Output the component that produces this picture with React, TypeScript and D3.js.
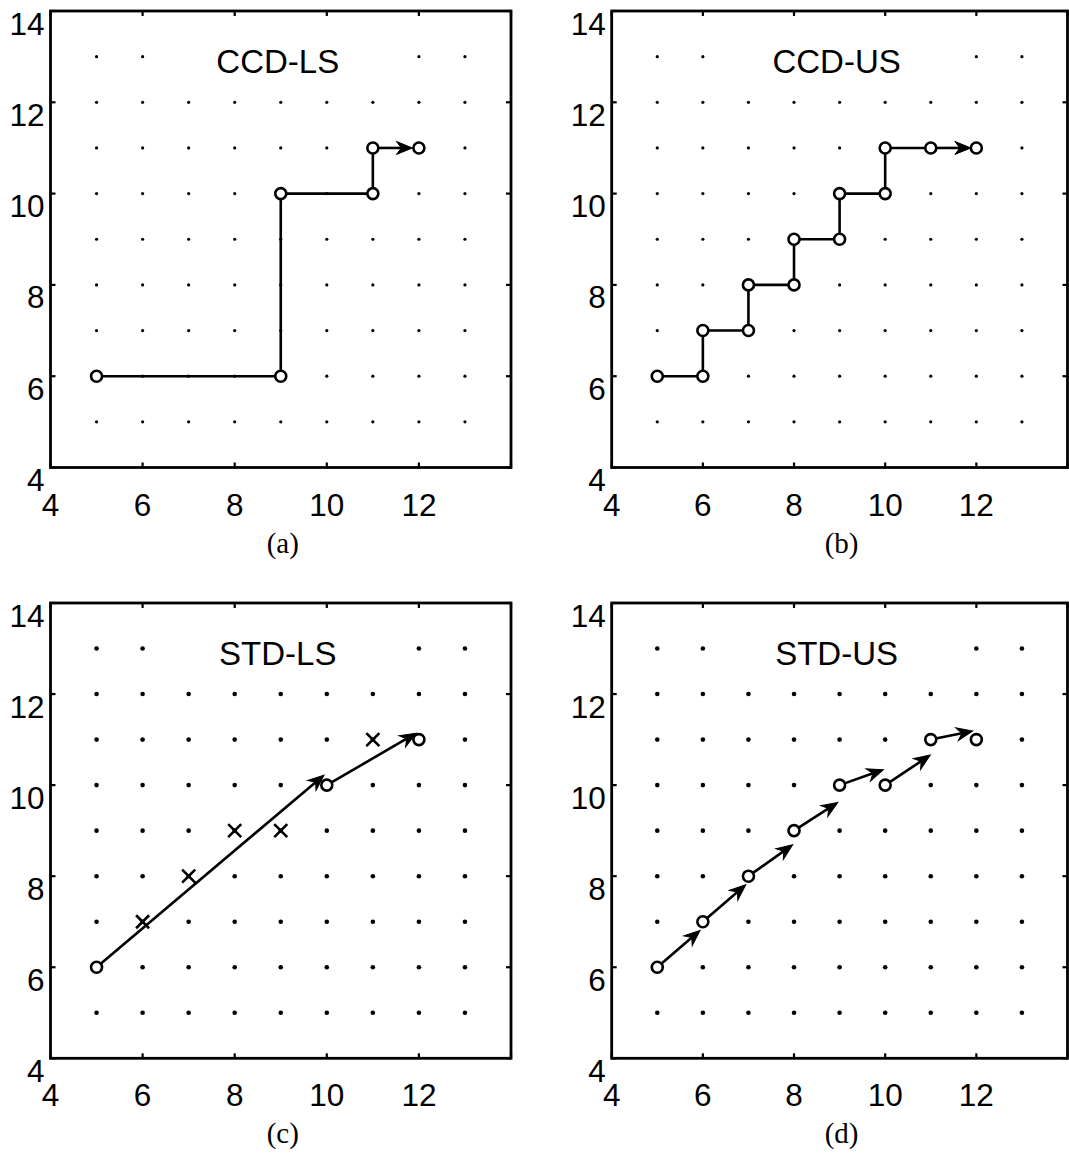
import React from 'react';
import * as d3 from 'd3';

type P = [number, number];
type Seg = [P, P];

// ---------- data ----------
const xTickValues = [4, 6, 8, 10, 12, 14];
const xTickLabels = [4, 6, 8, 10, 12];
const yTickValues = [4, 6, 8, 10, 12, 14];
const yTickLabels = [4, 6, 8, 10, 12, 14];
const gridValues = [5, 6, 7, 8, 9, 10, 11, 12, 13];

const titles = ['CCD-LS', 'CCD-US', 'STD-LS', 'STD-US'];
const captions = ['(a)', '(b)', '(c)', '(d)'];

// (a) CCD-LS
const ccdLsPath: P[] = [[5, 6], [9, 6], [9, 10], [11, 10], [11, 11]];
const ccdLsArrows: Seg[] = [[[11, 11], [11.86, 11]]];
const ccdLsCircles: P[] = [[5, 6], [9, 6], [9, 10], [11, 10], [11, 11], [12, 11]];

// (b) CCD-US
const ccdUsPath: P[] = [[5, 6], [6, 6], [6, 7], [7, 7], [7, 8], [8, 8], [8, 9], [9, 9], [9, 10], [10, 10], [10, 11], [11, 11]];
const ccdUsArrows: Seg[] = [[[11, 11], [11.88, 11]]];
const ccdUsCircles: P[] = [[5, 6], [6, 6], [6, 7], [7, 7], [7, 8], [8, 8], [8, 9], [9, 9], [9, 10], [10, 10], [10, 11], [11, 11], [12, 11]];

// (c) STD-LS
const stdLsArrows: Seg[] = [[[5, 6], [9.94, 10.22]], [[10, 10], [11.94, 11.14]]];
const stdLsCircles: P[] = [[5, 6], [10, 10], [12, 11]];
const stdLsCrosses: P[] = [[6, 7], [7, 8], [8, 9], [9, 9], [11, 11]];

// (d) STD-US
const stdUsArrows: Seg[] = [
  [[5, 6], [5.94, 6.81]],
  [[6, 7], [6.94, 7.81]],
  [[7, 8], [7.97, 8.69]],
  [[8, 9], [8.96, 9.62]],
  [[9, 10], [9.96, 10.34]],
  [[10, 10], [10.99, 10.66]],
  [[11, 11], [11.92, 11.19]],
];
const stdUsCircles: P[] = [[5, 6], [6, 7], [7, 8], [8, 9], [9, 10], [10, 10], [11, 11], [12, 11]];

const panelData = [
  { path: ccdLsPath, arrows: ccdLsArrows, circles: ccdLsCircles, crosses: [] as P[] },
  { path: ccdUsPath, arrows: ccdUsArrows, circles: ccdUsCircles, crosses: [] as P[] },
  { path: [] as P[], arrows: stdLsArrows, circles: stdLsCircles, crosses: stdLsCrosses },
  { path: [] as P[], arrows: stdUsArrows, circles: stdUsCircles, crosses: [] as P[] },
];

// ---------- layout ----------
const layouts = [
  { left: 50.5, right: 511, top: 11, bottom: 467.5, dotR: 1.6 },
  { left: 611.7, right: 1067.5, top: 11, bottom: 467.5, dotR: 1.6 },
  { left: 50.5, right: 511, top: 603, bottom: 1058.3, dotR: 2.3 },
  { left: 611.7, right: 1067.5, top: 603, bottom: 1058.3, dotR: 2.3 },
];

const SANS = '"Liberation Sans", Arial, Helvetica, sans-serif';
const SERIF = '"Liberation Serif", "Times New Roman", serif';
const HEAD_L = 16;
const HEAD_W = 6.5;
const HEAD_N = 5;
const LINE_W = 2.6;

function Panel({ i }: { i: number }) {
  const lay = layouts[i];
  const data = panelData[i];
  const x = d3.scaleLinear().domain([4, 14]).range([lay.left, lay.right]);
  const y = d3.scaleLinear().domain([4, 14]).range([lay.bottom, lay.top]);
  const line = d3.line<P>().x((d) => x(d[0])).y((d) => y(d[1]));

  const dots: P[] = [];
  gridValues.forEach((gx) => gridValues.forEach((gy) => dots.push([gx, gy])));

  const arrowParts = data.arrows.map(([a, b]) => {
    const x1 = x(a[0]), y1 = y(a[1]), x2 = x(b[0]), y2 = y(b[1]);
    const ang = Math.atan2(y2 - y1, x2 - x1);
    const back = HEAD_L - HEAD_N;
    const sx = x2 - back * Math.cos(ang);
    const sy = y2 - back * Math.sin(ang);
    const head = `M0,0 L${-HEAD_L},${-HEAD_W} L${-HEAD_L + HEAD_N},0 L${-HEAD_L},${HEAD_W} Z`;
    return { x1, y1, sx, sy, x2, y2, deg: (ang * 180) / Math.PI, head };
  });

  const ticksInner = 5;
  return (
    <g>
      {/* grid dots */}
      {dots.map((d, k) => (
        <circle key={'d' + k} cx={x(d[0])} cy={y(d[1])} r={lay.dotR} fill="#000" />
      ))}
      {/* title background */}
      <rect x={x(6.55)} y={y(13.45)} width={x(11.45) - x(6.55)} height={y(12.55) - y(13.45)} fill="#fff" />
      {/* axes box */}
      <rect x={lay.left} y={lay.top} width={lay.right - lay.left} height={lay.bottom - lay.top} fill="none" stroke="#000" strokeWidth={2.8} />
      {xTickValues.map((v) => (
        <g key={'xt' + v}>
          <line x1={x(v)} x2={x(v)} y1={lay.bottom} y2={lay.bottom - ticksInner} stroke="#000" strokeWidth={2.2} />
          <line x1={x(v)} x2={x(v)} y1={lay.top} y2={lay.top + ticksInner} stroke="#000" strokeWidth={2.2} />
        </g>
      ))}
      {yTickValues.map((v) => (
        <g key={'yt' + v}>
          <line x1={lay.left} x2={lay.left + ticksInner} y1={y(v)} y2={y(v)} stroke="#000" strokeWidth={2.2} />
          <line x1={lay.right} x2={lay.right - ticksInner} y1={y(v)} y2={y(v)} stroke="#000" strokeWidth={2.2} />
        </g>
      ))}
      {xTickLabels.map((v) => (
        <text key={'xl' + v} x={x(v)} y={lay.bottom + 48} textAnchor="middle" fontFamily={SANS} fontSize={31.5} fill="#000">
          {v}
        </text>
      ))}
      {yTickLabels.map((v) => (
        <text key={'yl' + v} x={lay.left - 6} y={y(v) + 23.5} textAnchor="end" fontFamily={SANS} fontSize={31.5} fill="#000">
          {v}
        </text>
      ))}
      {/* path lines */}
      {data.path.length > 1 && (
        <path d={line(data.path) || ''} fill="none" stroke="#000" strokeWidth={LINE_W} strokeLinejoin="miter" />
      )}
      {arrowParts.map((a, k) => (
        <line key={'s' + k} x1={a.x1} y1={a.y1} x2={a.sx} y2={a.sy} stroke="#000" strokeWidth={LINE_W} />
      ))}
      {/* circles */}
      {data.circles.map((c, k) => (
        <circle key={'c' + k} cx={x(c[0])} cy={y(c[1])} r={5.5} fill="#fff" stroke="#000" strokeWidth={2.6} />
      ))}
      {/* arrow heads */}
      {arrowParts.map((a, k) => (
        <path key={'h' + k} d={a.head} transform={`translate(${a.x2},${a.y2}) rotate(${a.deg})`} fill="#000" stroke="#000" strokeWidth={1} strokeLinejoin="miter" />
      ))}
      {/* crosses */}
      {data.crosses.map((c, k) => {
        const cx = x(c[0]), cy = y(c[1]), s = 6.5;
        return (
          <path key={'x' + k} d={`M${cx - s},${cy - s}L${cx + s},${cy + s}M${cx - s},${cy + s}L${cx + s},${cy - s}`} stroke="#000" strokeWidth={2.6} fill="none" />
        );
      })}
      {/* title */}
      <text x={x(9) - 3} y={y(13) + 16.5} textAnchor="middle" fontFamily={SANS} fontSize={33} fill="#000">
        {titles[i]}
      </text>
      {/* caption */}
      <text x={x(9) + 2} y={lay.bottom + 85} textAnchor="middle" fontFamily={SERIF} fontSize={29} fill="#000">
        {captions[i]}
      </text>
    </g>
  );
}

export default function App() {
  return (
    <svg
      width={1069}
      height={1155}
      viewBox="0 0 1069 1155"
      style={{ position: 'absolute', left: 0, top: 0, background: '#fff' }}
    >
      <rect x={0} y={0} width={1069} height={1155} fill="#fff" />
      {[0, 1, 2, 3].map((i) => (
        <Panel key={i} i={i} />
      ))}
    </svg>
  );
}
